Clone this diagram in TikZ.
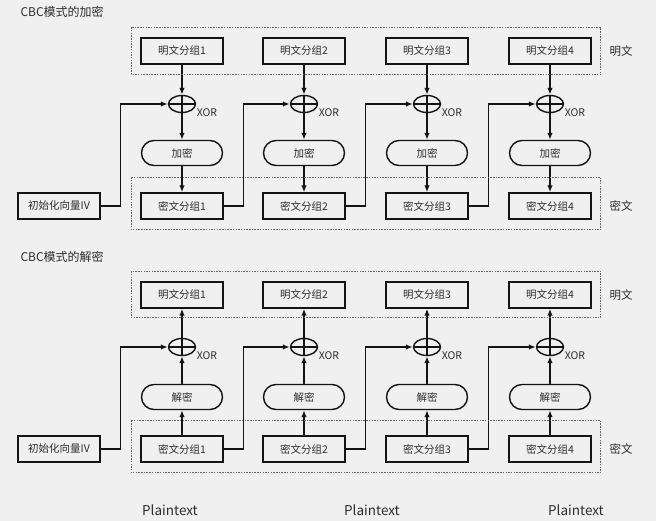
\documentclass[tikz,border=0pt]{standalone}
\usepackage{fontspec}
\setmainfont{Noto Sans CJK SC}
\usepackage{tikz}
\usetikzlibrary{arrows.meta,shapes.geometric}
\usepackage{xcolor}
\definecolor{bgpaper}{RGB}{240,240,240}
\definecolor{inkline}{RGB}{20,20,20}
\definecolor{inktext}{RGB}{45,45,45}
\definecolor{groupline}{RGB}{100,100,100}

\tikzset{
  block/.style={draw=inkline, line width=1.4pt, minimum width=82pt, minimum height=26pt,
    inner sep=0pt, text=inktext, font=\fontsize{10.5}{12}\selectfont},
  cipherop/.style={block, rounded corners=12.5pt, minimum width=81pt, minimum height=25pt},
  xorop/.style={draw=inkline, line width=1.4pt, ellipse, minimum width=27pt, minimum height=17pt,
    inner sep=0pt,
    path picture={\draw[inkline, line width=1.3pt]
      (path picture bounding box.west) -- (path picture bounding box.east)
      (path picture bounding box.north) -- (path picture bounding box.south);}},
  flow/.style={draw=inkline, line width=1.4pt, -{Latex[length=7pt,width=5.5pt]}},
  group/.style={draw=groupline, line width=0.7pt, dash pattern=on 1.5pt off 1.2pt},
  note/.style={text=inktext, font=\fontsize{11.5}{13}\selectfont},
  xornote/.style={text=inktext, font=\fontsize{10.5}{12}\selectfont}
}

\begin{document}
\begin{tikzpicture}[x=1pt, y=-1pt]
    % Paper
    \fill[bgpaper] (0,0) rectangle (656,521);
    \useasboundingbox (0,0) rectangle (656,521);

    % ---------- Encryption ----------
    \node[note, anchor=west, font=\fontsize{12}{14}\selectfont] (enctitle) at (17,12) {CBC模式的加密};
    \node[block] (eiv) at (59,206) {初始化向量IV};

    \foreach \i/\x in {1/182,2/304,3/427,4/550} {
        \node[block] (ep\i) at (\x,51) {明文分组\i};
        \node[xorop] (ex\i) at (\x,104) {};
        \node[xornote] (exl\i) at (\x+25,113) {XOR};
        \node[cipherop] (ee\i) at (\x,153) {加密};
        \node[block] (ec\i) at (\x,206) {密文分组\i};
        \draw[flow] (ep\i.south) -- (ex\i.north);
        \draw[flow] (ex\i.south) -- (ee\i.north);
        \draw[flow] (ee\i.south) -- (ec\i.north);
    }

    % Chaining
    \draw[flow] (eiv.east) -- ++(20,0) |- (ex1.west);
    \foreach \i/\j in {1/2,2/3,3/4}
        \draw[flow] (ec\i.east) -- ++(20,0) |- (ex\j.west);

    % Groups
    \draw[group] ([shift={(-9,-10)}]ep1.north west) rectangle ([shift={(9,10)}]ep4.south east);
    \draw[group] ([shift={(-9,-15)}]ec1.north west) rectangle ([shift={(9,10)}]ec4.south east);
    \node[note] (eplain) at (621,51) {明文};
    \node[note] (ecipher) at (621,206) {密文};

    % ---------- Decryption ----------
    \node[note, anchor=west, font=\fontsize{12}{14}\selectfont] (dectitle) at (17,257) {CBC模式的解密};
    \node[block] (div) at (59,449) {初始化向量IV};

    \foreach \i/\x in {1/182,2/304,3/427,4/550} {
        \node[block] (dp\i) at (\x,295) {明文分组\i};
        \node[xorop] (dx\i) at (\x,347) {};
        \node[xornote] (dxl\i) at (\x+25,356) {XOR};
        \node[cipherop] (dd\i) at (\x,397) {解密};
        \node[block] (dc\i) at (\x,449) {密文分组\i};
        \draw[flow] (dc\i.north) -- (dd\i.south);
        \draw[flow] (dd\i.north) -- (dx\i.south);
        \draw[flow] (dx\i.north) -- (dp\i.south);
    }

    % Chaining
    \draw[flow] (div.east) -- ++(20,0) |- (dx1.west);
    \foreach \i/\j in {1/2,2/3,3/4}
        \draw[flow] (dc\i.east) -- ++(20,0) |- (dx\j.west);

    % Groups
    \draw[group] ([shift={(-9,-10)}]dp1.north west) rectangle ([shift={(9,9)}]dp4.south east);
    \draw[group] ([shift={(-9,-15)}]dc1.north west) rectangle ([shift={(9,10)}]dc4.south east);
    \node[note] (dplain) at (621,295) {明文};
    \node[note] (dcipher) at (621,449) {密文};

    % Footer
    \foreach \k/\x in {1/170,2/372,3/576}
        \node[note, font=\fontsize{13.5}{15}\selectfont] (foot\k) at (\x,510) {Plaintext};
\end{tikzpicture}
\end{document}
